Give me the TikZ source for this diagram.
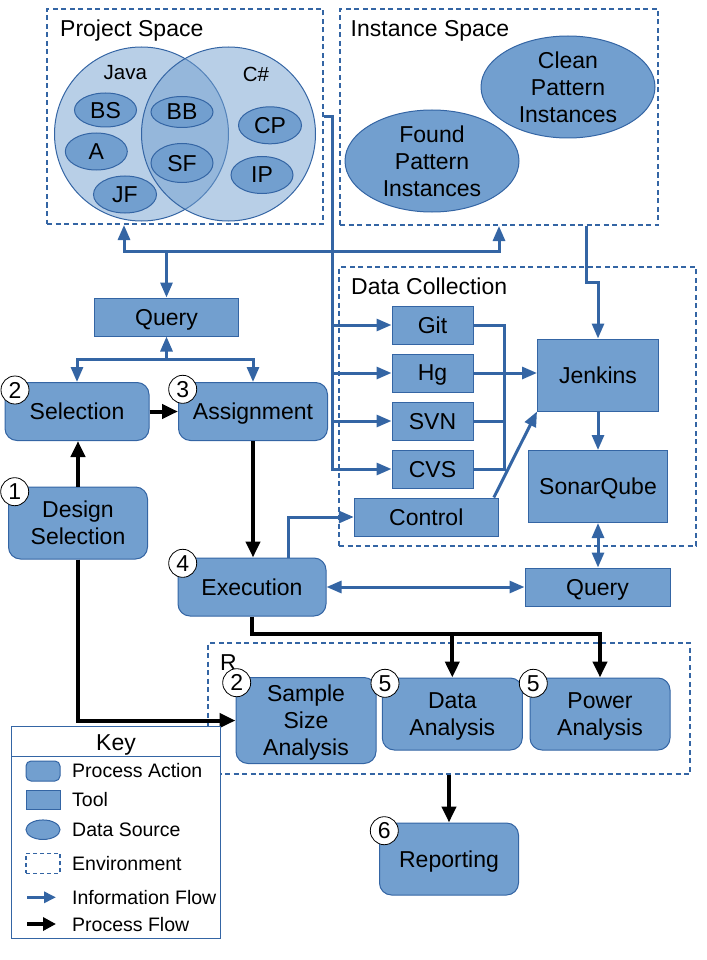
\documentclass[tikz,border=0pt]{standalone}
\usepackage{fontspec}
\setmainfont{Liberation Sans}
\usetikzlibrary{arrows.meta,shapes.geometric}
\definecolor{boxfill}{HTML}{729FCF}
\definecolor{bdr}{HTML}{3465A4}
\newcommand\fmain{\fontsize{23}{27}\selectfont}
\newcommand\fkey{\fontsize{19.5}{23}\selectfont}
\newcommand\fvenn{\fontsize{20.5}{24}\selectfont}
\tikzset{
 base/.style={draw=bdr, fill=boxfill, line width=1pt, align=center, inner sep=0pt, font=\fmain, text=black, text depth=0pt},
 proc/.style={base, rounded corners=12pt},
 tool/.style={base},
 ds/.style={base, ellipse},
 env/.style={draw=bdr, line width=2pt, dash pattern=on 5pt off 3.5pt, inner sep=0pt},
 lbl/.style={font=\fmain, inner sep=0pt, anchor=base west},
 klbl/.style={font=\fkey, inner sep=0pt, anchor=west, text depth=0pt},
 info/.style={draw=bdr, line width=3pt, -{Triangle[length=15pt,width=12pt]}},
 infoboth/.style={draw=bdr, line width=3pt, {Triangle[length=15pt,width=12pt]}-{Triangle[length=15pt,width=12pt]}},
 infoline/.style={draw=bdr, line width=3pt},
 pflow/.style={draw=black, line width=4pt, -{Triangle[length=16pt,width=14pt]}},
 num/.style={circle, draw=black, fill=white, line width=0.8pt, minimum size=28pt, inner sep=0pt, font=\fmain, text depth=0pt},
 venn/.style={circle, draw=bdr, line width=1pt, fill=boxfill, fill opacity=0.5, draw opacity=1, minimum size=174pt, inner sep=0pt},
}
\begin{document}
\begin{tikzpicture}[x=1pt,y=-1pt]
\useasboundingbox (0,0) rectangle (706,960);

% environments
\node[env, minimum width=276pt, minimum height=215pt] (ps) at (185,116.5) {};
\node[env, minimum width=318pt, minimum height=216pt] (is) at (499,117) {};
\node[env, minimum width=357pt, minimum height=279pt] (dc) at (517.5,406.5) {};
\node[env, minimum width=482pt, minimum height=131pt] (r) at (449,708.5) {};
\node[lbl] (psl) at (60,36.5) {Project Space};
\node[lbl] (isl) at (350.5,36.5) {Instance Space};
\node[lbl] (dcl) at (351,294.5) {Data Collection};
\node[lbl] (rl) at (220,670) {R};

% venn
\node[venn] (java) at (141.5,134) {};
\node[venn] (cs) at (228.5,134) {};
\node[font=\fvenn, inner sep=0pt, text depth=0pt] (javal) at (125.3,72) {Java};
\node[font=\fvenn, inner sep=0pt, text depth=0pt] (csl) at (256,74) {C\#};
\node[ds, minimum width=62pt, minimum height=34pt] (bs) at (105.5,110) {BS};
\node[ds, minimum width=62pt, minimum height=37pt] (a) at (96.3,151.5) {A};
\node[ds, minimum width=63pt, minimum height=37pt] (jf) at (125,194.5) {JF};
\node[ds, minimum width=62pt, minimum height=31pt] (bb) at (182,112) {BB};
\node[ds, minimum width=62pt, minimum height=39pt] (sf) at (182,163) {SF};
\node[ds, minimum width=63pt, minimum height=37pt] (cp) at (270,125.3) {CP};
\node[ds, minimum width=62pt, minimum height=37pt] (ip) at (262,175) {IP};

% instance space
\node[ds, minimum width=174pt, minimum height=102pt, label={[font=\fmain, align=center, inner sep=0pt, text depth=0pt]center:Clean\\Pattern\\Instances}] (cpi) at (568,87) {};
\node[ds, minimum width=174pt, minimum height=102pt, label={[font=\fmain, align=center, inner sep=0pt, text depth=0pt]center:Found\\Pattern\\Instances}] (fpi) at (432,161) {};

% tools and actions
\node[tool, minimum width=144pt, minimum height=38pt] (qtop) at (166.5,317) {Query};
\node[proc, minimum width=144pt, minimum height=58pt] (sel) at (77,411.5) {Selection};
\node[proc, minimum width=149pt, minimum height=58pt] (asg) at (253,411.5) {Assignment};
\node[proc, minimum width=139pt, minimum height=72pt] (des) at (78,523) {Design\\Selection};
\node[proc, minimum width=148pt, minimum height=58pt] (exe) at (252,587) {Execution};
\node[tool, minimum width=81pt, minimum height=38pt] (git) at (432.5,325) {Git};
\node[tool, minimum width=81pt, minimum height=38pt] (hg) at (432.5,373) {Hg};
\node[tool, minimum width=81pt, minimum height=38pt] (svn) at (432.5,421) {SVN};
\node[tool, minimum width=81pt, minimum height=38pt] (cvs) at (432.5,469) {CVS};
\node[tool, minimum width=121pt, minimum height=72pt] (jen) at (598,375) {Jenkins};
\node[tool, minimum width=139pt, minimum height=72pt] (son) at (598,486.5) {SonarQube};
\node[tool, minimum width=144pt, minimum height=38pt] (ctl) at (426.3,517) {Control};
\node[tool, minimum width=145pt, minimum height=38pt] (qbot) at (597.5,587) {Query};
\node[proc, minimum width=140pt, minimum height=86pt] (ssa) at (306,720.5) {Sample\\Size\\Analysis};
\node[proc, minimum width=140pt, minimum height=72pt] (da) at (452.3,714) {Data\\Analysis};
\node[proc, minimum width=140pt, minimum height=72pt] (pa) at (600,714) {Power\\Analysis};
\node[proc, minimum width=139pt, minimum height=72pt] (rep) at (449,859) {Reporting};

% information flow
\coordinate (psb) at ([xshift=-61pt]ps.south);
\coordinate (topbar) at (0,251);
\draw[infoboth] (psb) -- (psb |- topbar) -| (is.south);
\draw[info] (qtop.north |- topbar) -- (qtop.north);
\coordinate (qbar) at (0,359.5);
\draw[infoboth] (sel.north) -- (sel.north |- qbar) -| (asg.north);
\draw[info] (qtop.south |- qbar) -- (qtop.south);

\coordinate (busx) at (332,0);
\draw[info] (ps.east) -- (ps.east -| busx) -- (busx |- cvs.west) -- (cvs.west);
\draw[info] (git.west -| busx) -- (git.west);
\draw[info] (hg.west -| busx) -- (hg.west);
\draw[info] (svn.west -| busx) -- (svn.west);

\coordinate (busy) at (504,0);
\draw[infoline] (git.east) -- (git.east -| busy) -- (busy |- cvs.east) -- (cvs.east);
\draw[infoline] (svn.east) -- (svn.east -| busy);
\draw[info] (hg.east) -- (hg.east -| jen.west);

\coordinate (isb) at ([xshift=87pt]is.south);
\coordinate (jbend) at (0,282);
\draw[info] (isb) -- (isb |- jbend) -| (jen.north);
\draw[info] (jen.south) -- (son.north);
\coordinate (ctlne) at ([xshift=-5pt]ctl.north east);
\draw[info] (ctlne) -- (jen.south west);
\coordinate (exen) at ([xshift=36pt]exe.north);
\draw[info] (exen) |- (ctl.west);
\draw[infoboth] (exe.east) -- (qbot.west);
\draw[infoboth] (son.south) -- (son.south |- qbot.north);

% process flow
\draw[pflow] (sel.east) -- (asg.west);
\draw[pflow] (des.north) -- (des.north |- sel.south);
\draw[pflow] (des.south) |- (ssa.west);
\draw[pflow] (asg.south) -- (asg.south |- exe.north);
\coordinate (pbar) at (0,634);
\draw[pflow] (exe.south) -- (exe.south |- pbar) -| (pa.north);
\draw[pflow] (da.north |- pbar) -- (da.north);
\draw[pflow] (r.south -| rep.north) -- (rep.north);

% numbers
\node[num] (n1) at (14.7,491.7) {1};
\node[num] (n2) at (15,390) {2};
\node[num] (n3) at (182.7,389.3) {3};
\node[num] (n4) at (182.7,563.3) {4};
\node[num] (n2b) at (236.7,682.7) {2};
\node[num] (n5a) at (385,683.3) {5};
\node[num] (n5b) at (533.3,683.3) {5};
\node[num] (n6) at (384.3,830.7) {6};

% key
\node[draw=bdr, line width=1pt, fill=white, minimum width=209pt, minimum height=212pt, inner sep=0pt] (key) at (116.3,832) {};
\coordinate (keyline) at (0,756);
\draw[bdr, line width=1pt] (key.west |- keyline) -- (key.east |- keyline);
\node[font=\fmain, inner sep=0pt, text depth=0pt] (keyt) at (116,743) {Key};
\node[proc, rounded corners=5pt, minimum width=34pt, minimum height=20pt] (k1) at (43,771) {};
\node[klbl] (k1t) at (72,770.7) {Process Action};
\node[tool, minimum width=34pt, minimum height=19pt] (k2) at (43,799.7) {};
\node[klbl] (k2t) at (72,799.3) {Tool};
\node[ds, minimum width=34pt, minimum height=19.5pt] (k3) at (43,829.7) {};
\node[klbl] (k3t) at (72,829.3) {Data Source};
\node[draw=bdr, line width=1.5pt, dash pattern=on 4pt off 3pt, minimum width=34pt, minimum height=20pt, inner sep=0pt] (k4) at (43,863.3) {};
\node[klbl] (k4t) at (72,863.3) {Environment};
\coordinate (k5a) at (27,897.3);
\coordinate (k5b) at (56,897.3);
\draw[draw=bdr, line width=3pt, -{Triangle[length=12pt,width=11pt]}] (k5a) -- (k5b);
\node[klbl] (k5t) at (72,897.3) {Information Flow};
\coordinate (k6a) at (27,924);
\coordinate (k6b) at (56,924);
\draw[draw=black, line width=4pt, -{Triangle[length=13pt,width=13pt]}] (k6a) -- (k6b);
\node[klbl] (k6t) at (72,924) {Process Flow};
\end{tikzpicture}
\end{document}
